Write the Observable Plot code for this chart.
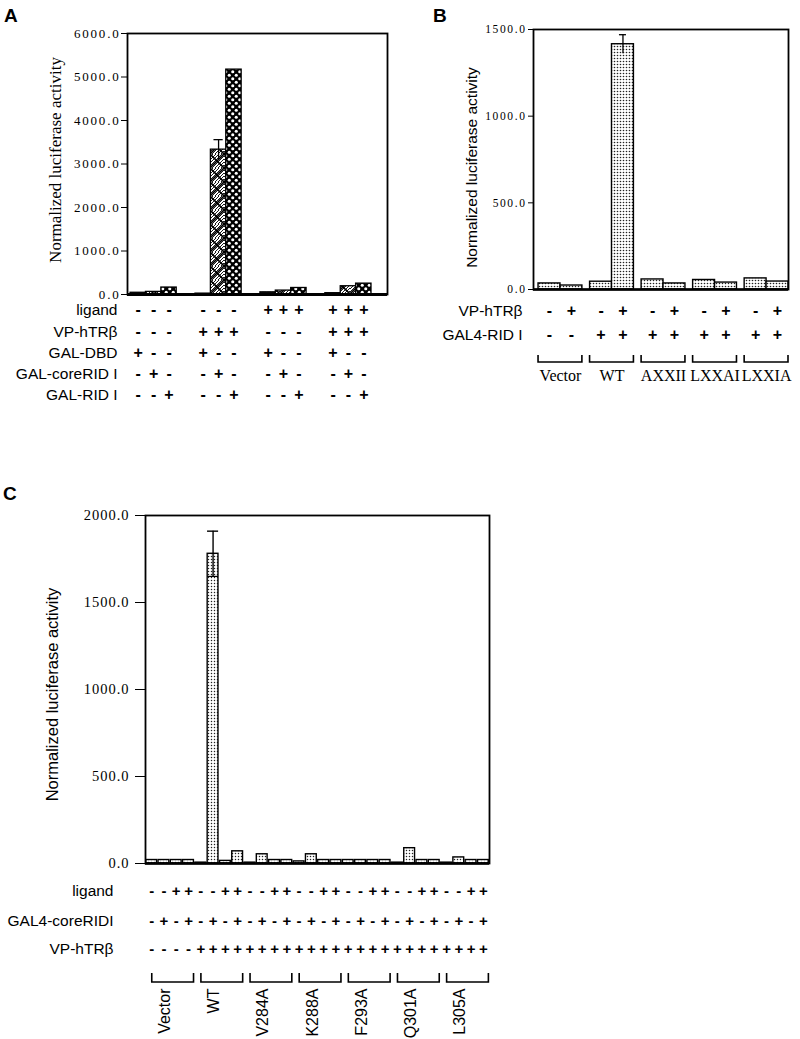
<!DOCTYPE html>
<html><head><meta charset="utf-8">
<script src="https://cdn.jsdelivr.net/npm/d3@7"></script>
<script src="https://cdn.jsdelivr.net/npm/@observablehq/plot@0.6"></script>
<style>
body{margin:0;background:#fff;}
#wrap{position:relative;width:800px;height:1039px;overflow:hidden;background:#fff;}
.panel{position:absolute;}
.letter{position:absolute;font:bold 19px "Liberation Sans",Arial,sans-serif;line-height:19px;color:#000;}
</style></head>
<body><div id="wrap">
<div class="letter" style="left:4px;top:6px">A</div>
<div class="letter" style="left:433px;top:6px">B</div>
<div class="letter" style="left:3px;top:484px">C</div>
<div class="panel" id="pa" style="left:0;top:0"></div>
<div class="panel" id="pb" style="left:400px;top:0"></div>
<div class="panel" id="pc" style="left:0;top:480px"></div>
</div>
<script>
// ---------------- Panel A data ----------------
const A_groups = ["1", "2", "3", "4"];
const A_series = ["GAL-DBD", "GAL-coreRID I", "GAL-RID I"];
const A_galDBD = [40, 20, 50, 30];
const A_galCoreRID = [60, 3330, 90, 190];
const A_galCoreRID_err = [0, 230, 0, 0];
const A_galRID = [160, 5170, 150, 250];
const A_rowLabels = ["ligand", "VP-hTRβ", "GAL-DBD", "GAL-coreRID I", "GAL-RID I"];
const A_ligand = ["-", "-", "+", "+"];
const A_vp = ["-", "+", "-", "+"];
const A_yTicks = [0, 1000, 2000, 3000, 4000, 5000, 6000];

// ---------------- Panel B data ----------------
const B_groups = ["Vector", "WT", "AXXII", "LXXAI", "LXXIA"];
const B_minusVP = [35, 45, 58, 55, 64];
const B_plusVP = [23, 1415, 35, 40, 46];
const B_plusVP_err = [0, 55, 0, 0, 0];
const B_rowLabels = ["VP-hTRβ", "GAL4-RID I"];
const B_gal4 = ["-", "+", "+", "+", "+"];
const B_yTicks = [0, 500, 1000, 1500];

// ---------------- Panel C data ----------------
const C_groups = ["Vector", "WT", "V284A", "K288A", "F293A", "Q301A", "L305A"];
const C_ligMinus_coreMinus = [20, 5, 5, 12, 20, 5, 5];
const C_ligMinus_corePlus = [20, 1780, 53, 53, 20, 88, 35];
const C_ligMinus_corePlus_err = [0, 130, 0, 0, 0, 0, 0];
const C_ligPlus_coreMinus = [20, 15, 20, 20, 20, 20, 20];
const C_ligPlus_corePlus = [20, 70, 20, 20, 20, 20, 20];
const C_rowLabels = ["ligand", "GAL4-coreRIDI", "VP-hTRβ"];
const C_vp = ["-", "+", "+", "+", "+", "+", "+"];
const C_yTicks = [0, 500, 1000, 1500, 2000];

const SANS = "'Liberation Sans', Arial, Helvetica, sans-serif";
const SERIF = "'Liberation Serif', 'Times New Roman', serif";
const fmt = d3.format(".1f");

function addDefs(svg, html) {
  const defs = document.createElementNS("http://www.w3.org/2000/svg", "defs");
  defs.innerHTML = html;
  svg.insertBefore(defs, svg.firstChild);
}
function styleTicks(svg, ls) {
  d3.select(svg).selectAll('g[aria-label^="y-axis"] text').style("letter-spacing", ls);
}
function bracketMark(groups, from, to, top, bottom) {
  return (index, scales) => {
    const x = scales.x, y = scales.y, base = y(0);
    const g = d3.create("svg:g").attr("fill", "none").attr("stroke", "black").attr("stroke-width", 1.6);
    groups.forEach((name, i) => {
      const a = x(from(i)), b = x(to(i));
      g.append("path").attr("d", `M${a},${base + top}V${base + bottom}H${b}V${base + top}`);
    });
    return g.node();
  };
}

// ================= Panel A =================
{
  const fills = ["url(#pA0)", "url(#pA1)", "url(#pA2)"];
  const vals = [A_galDBD, A_galCoreRID, A_galRID];
  const bars = [];
  A_groups.forEach((g, gi) => A_series.forEach((s, si) => {
    const pos = gi * 4.22 + si;
    bars.push({pos, value: vals[si][gi], fill: fills[si],
      err: si === 1 ? A_galCoreRID_err[gi] : 0,
      signs: [A_ligand[gi], A_vp[gi], si === 0 ? "+" : "-", si === 1 ? "+" : "-", si === 2 ? "+" : "-"]});
  }));
  const errs = bars.filter(d => d.err > 0);
  const rowDy = [20, 42, 63, 84, 105];
  const marks = [
    Plot.rect(bars, {x1: "pos", x2: d => d.pos + 1, y1: 0, y2: "value", fill: "fill", stroke: "black", strokeWidth: 1.3}),
    Plot.ruleX(errs, {x: d => d.pos + 0.5, y1: d => d.value - d.err, y2: d => d.value + d.err, strokeWidth: 1.3}),
    Plot.ruleY(errs, {y: d => d.value + d.err, x1: d => d.pos + 0.2, x2: d => d.pos + 0.8, strokeWidth: 1.3}),
    Plot.frame({stroke: "black", strokeWidth: 1.8}),
    Plot.ruleY([0], {strokeWidth: 2.8}),
    Plot.text(["Normalized luciferase activity"], {text: d => d, frameAnchor: "left", textAnchor: "middle", rotate: -90, dx: -72, dy: -4, fontFamily: SERIF, fontSize: 17}),
  ];
  A_rowLabels.forEach((lab, r) => {
    marks.push(Plot.text([lab], {text: d => d, frameAnchor: "bottom-left", textAnchor: "end", dx: -10, dy: rowDy[r], fontFamily: SANS, fontSize: 15.5}));
    marks.push(Plot.text(bars, {x: d => d.pos + 0.5, text: d => d.signs[r], frameAnchor: "bottom", textAnchor: "middle", dy: rowDy[r], fontFamily: SANS, fontSize: 16, fontWeight: "bold"}));
  });
  const svg = Plot.plot({
    width: 400, height: 420, marginLeft: 127, marginRight: 13, marginTop: 33, marginBottom: 126,
    style: {fontFamily: SERIF, fontSize: "13px", color: "black", background: "transparent"},
    x: {type: "linear", domain: [-0.2, 16.7], axis: null},
    y: {domain: [0, 6000], ticks: A_yTicks, tickFormat: fmt, label: null, tickSize: 6, tickPadding: 1},
    color: {type: "identity"},
    marks
  });
  addDefs(svg, `
    <pattern id="pA0" patternUnits="userSpaceOnUse" width="5" height="5"><rect width="5" height="5" fill="#111"/><circle cx="1.5" cy="1.5" r="0.6" fill="#fff"/></pattern>
    <pattern id="pA1" patternUnits="userSpaceOnUse" width="14" height="14"><rect width="14" height="14" fill="#fff"/>
      <path d="M0,3L3,0M0,6L6,0M0,9L9,0M0,12L12,0M2,14L14,2M5,14L14,5M8,14L14,8M11,14L14,11" stroke="#000" stroke-width="0.9"/>
      <path d="M0,0L14,14M14,0L0,14" stroke="#000" stroke-width="1.6"/></pattern>
    <pattern id="pA2" patternUnits="userSpaceOnUse" width="7" height="7"><rect width="7" height="7" fill="#000"/><circle cx="1.75" cy="1.75" r="1.55" fill="#fff"/><circle cx="5.25" cy="5.25" r="1.55" fill="#fff"/></pattern>`);
  styleTicks(svg, "1.8px");
  document.getElementById("pa").appendChild(svg);
}

// ================= Panel B =================
{
  const bars = [];
  B_groups.forEach((g, gi) => {
    bars.push({pos: gi * 2.35, value: B_minusVP[gi], err: 0, signs: ["-", B_gal4[gi]]});
    bars.push({pos: gi * 2.35 + 1, value: B_plusVP[gi], err: B_plusVP_err[gi], signs: ["+", B_gal4[gi]]});
  });
  const errs = bars.filter(d => d.err > 0);
  const rowDy = [26, 50];
  const marks = [
    Plot.rect(bars, {x1: "pos", x2: d => d.pos + 1, y1: 0, y2: "value", fill: "url(#pB)", stroke: "black", strokeWidth: 1.4}),
    Plot.ruleX(errs, {x: d => d.pos + 0.5, y1: d => d.value - d.err, y2: d => d.value + d.err, strokeWidth: 1.3}),
    Plot.ruleY(errs, {y: d => d.value + d.err, x1: d => d.pos + 0.34, x2: d => d.pos + 0.66, strokeWidth: 1.3}),
    Plot.frame({stroke: "black", strokeWidth: 1.8}),
    Plot.ruleY([0], {strokeWidth: 2.5}),
    Plot.text(["Normalized luciferase activity"], {text: d => d, frameAnchor: "left", textAnchor: "middle", rotate: -90, dx: -61, dy: 8, fontFamily: SANS, fontSize: 15.5}),
    bracketMark(B_groups, i => i * 2.35, i => i * 2.35 + 2, 66, 73),
    Plot.text(B_groups, {x: (d, i) => i * 2.35 + 1, text: d => d, frameAnchor: "bottom", textAnchor: "middle", dy: 91, fontFamily: SERIF, fontSize: 16}),
  ];
  B_rowLabels.forEach((lab, r) => {
    marks.push(Plot.text([lab], {text: d => d, frameAnchor: "bottom-left", textAnchor: "end", dx: -11, dy: rowDy[r], fontFamily: SANS, fontSize: 15.5}));
    marks.push(Plot.text(bars, {x: d => d.pos + 0.5, text: d => d.signs[r], frameAnchor: "bottom", textAnchor: "middle", dy: rowDy[r], fontFamily: SANS, fontSize: 16, fontWeight: "bold"}));
  });
  const svg = Plot.plot({
    width: 400, height: 400, marginLeft: 133, marginRight: 12, marginTop: 29, marginBottom: 111,
    style: {fontFamily: SERIF, fontSize: "11.5px", color: "black", background: "transparent"},
    x: {type: "linear", domain: [-0.23, 11.4], axis: null},
    y: {domain: [0, 1500], ticks: B_yTicks, tickFormat: fmt, label: null, tickSize: 5, tickPadding: 2},
    color: {type: "identity"},
    marks
  });
  addDefs(svg, `<pattern id="pB" patternUnits="userSpaceOnUse" width="3" height="3"><rect width="3" height="3" fill="#fff"/><circle cx="1.5" cy="1.5" r="0.8" fill="#222"/></pattern>`);
  styleTicks(svg, "1.6px");
  document.getElementById("pb").appendChild(svg);
}

// ================= Panel C =================
{
  const conds = [
    {vals: C_ligMinus_coreMinus, err: null, lig: "-", core: "-"},
    {vals: C_ligMinus_corePlus, err: C_ligMinus_corePlus_err, lig: "-", core: "+"},
    {vals: C_ligPlus_coreMinus, err: null, lig: "+", core: "-"},
    {vals: C_ligPlus_corePlus, err: null, lig: "+", core: "+"},
  ];
  const bars = [];
  C_groups.forEach((g, gi) => conds.forEach((c, ci) => {
    bars.push({pos: gi * 4 + ci, value: c.vals[gi], err: c.err ? c.err[gi] : 0, signs: [c.lig, c.core, C_vp[gi]]});
  }));
  const errs = bars.filter(d => d.err > 0);
  const rowDy = [32, 62, 90];
  const marks = [
    Plot.rect(bars, {x1: d => d.pos + 0.06, x2: d => d.pos + 0.94, y1: 0, y2: "value", fill: "url(#pC)", stroke: "black", strokeWidth: 1.4}),
    Plot.ruleX(errs, {x: d => d.pos + 0.5, y1: d => d.value - d.err, y2: d => d.value + d.err, strokeWidth: 1.4}),
    Plot.ruleY(errs, {y: d => d.value + d.err, x1: d => d.pos + 0.05, x2: d => d.pos + 0.95, strokeWidth: 1.4}),
    Plot.ruleY(errs, {y: d => d.value - d.err, x1: d => d.pos + 0.06, x2: d => d.pos + 0.94, strokeWidth: 1.2}),
    Plot.frame({stroke: "black", strokeWidth: 1.8}),
    Plot.ruleY([0], {strokeWidth: 2.5}),
    Plot.text(["Normalized luciferase activity"], {text: d => d, frameAnchor: "left", textAnchor: "middle", rotate: -90, dx: -93, dy: 5, fontFamily: SANS, fontSize: 16.5}),
    bracketMark(C_groups, i => i * 4 + 0.55, i => i * 4 + 3.95, 110, 119),
    Plot.text(C_groups, {x: (d, i) => i * 4 + 2, text: d => d, frameAnchor: "bottom", rotate: -90, textAnchor: "end", dy: 125, fontFamily: SANS, fontSize: 16}),
  ];
  C_rowLabels.forEach((lab, r) => {
    marks.push(Plot.text([lab], {text: d => d, frameAnchor: "bottom-left", textAnchor: "end", dx: -32, dy: rowDy[r], fontFamily: SANS, fontSize: 15.5}));
    marks.push(Plot.text(bars, {x: d => d.pos + 0.5, text: d => d.signs[r], frameAnchor: "bottom", textAnchor: "middle", dy: rowDy[r], fontFamily: SANS, fontSize: 15, fontWeight: "bold"}));
  });
  const svg = Plot.plot({
    width: 500, height: 559, marginLeft: 145, marginRight: 11, marginTop: 35, marginBottom: 176,
    style: {fontFamily: SERIF, fontSize: "14.5px", color: "black", background: "transparent"},
    x: {type: "linear", domain: [0, 28], axis: null},
    y: {domain: [0, 2000], ticks: C_yTicks, tickFormat: fmt, label: null, tickSize: 10, tickPadding: 6},
    color: {type: "identity"},
    marks
  });
  addDefs(svg, `<pattern id="pC" patternUnits="userSpaceOnUse" width="3" height="3"><rect width="3" height="3" fill="#fff"/><circle cx="1.5" cy="1.5" r="0.75" fill="#222"/></pattern>`);
  styleTicks(svg, "1px");
  document.getElementById("pc").appendChild(svg);
}
</script>
</body></html>
